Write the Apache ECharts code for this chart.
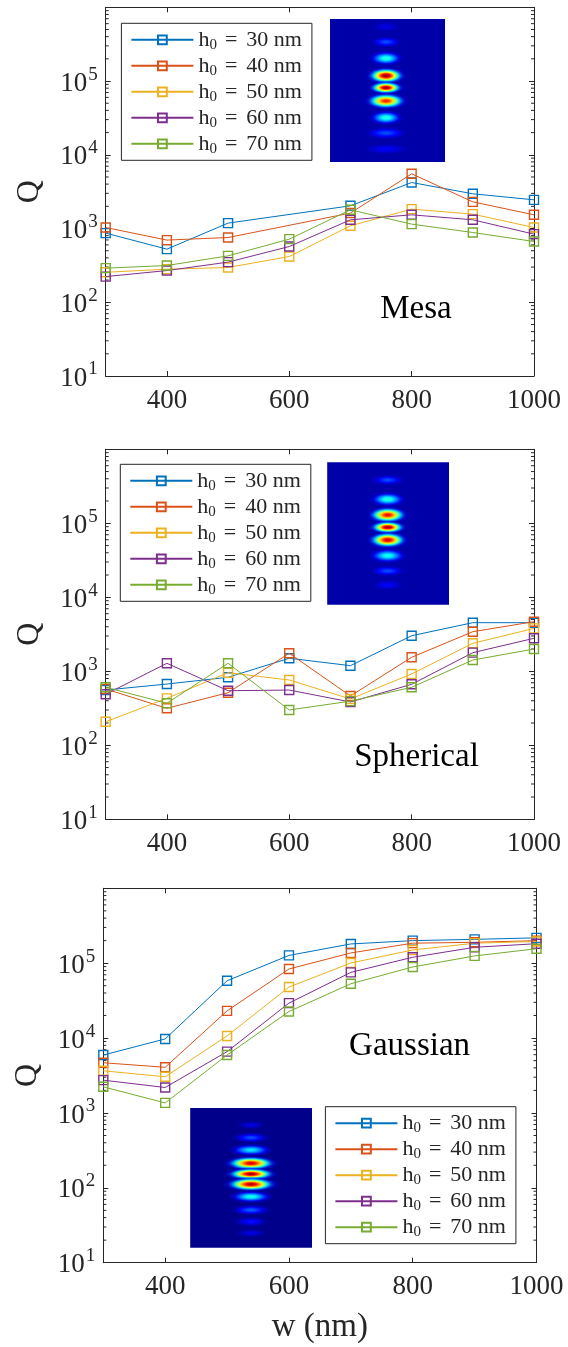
<!DOCTYPE html>
<html><head><meta charset="utf-8">
<script src="https://cdn.jsdelivr.net/npm/echarts@6/dist/echarts.min.js"></script>
<style>html,body{margin:0;padding:0;background:#fff}#c{width:568px;height:1347px}</style>
</head><body><div id="c"></div>
<script>
// ---------------- data ----------------
const widths = [300, 400, 500, 600, 700, 800, 900, 1000];           // w (nm)
const seriesNames = ['h0 = 30 nm', 'h0 = 40 nm', 'h0 = 50 nm', 'h0 = 60 nm', 'h0 = 70 nm'];
const panelLabels = ['Mesa', 'Spherical', 'Gaussian'];
const xTickValues = [400, 600, 800, 1000];
const minorMantissas = [2, 3, 4, 5, 6, 7, 8, 9];
const minorDecades = [10, 100, 1000, 10000, 100000];

// Mesa
const mesaQ30 = [866, 525, 1184, null, 2032, 4207, 2958, 2449];
const mesaQ40 = [1032, 697, 755, null, 1620, 5520, 2300, 1534];
const mesaQ50 = [255, 281, 296, 417, 1088, 1833, 1567, 1032];
const mesaQ60 = [223, 269, 350, 570, 1313, 1534, 1313, 839];
const mesaQ70 = [290, 315, 426, 717, 1795, 1147, 883, 667];
// Spherical
const sphQ30 = [558, 673, 830, 1500, 1191, 3025, 4540, 4540];
const sphQ40 = [577, 316, 514, 1750, 464, 1546, 3428, 4680];
const sphQ50 = [208, 431, 957, 763, 423, 920, 2390, 3800];
const sphQ60 = [489, 1283, 547, 558, 385, 667, 1786, 2793];
const sphQ70 = [608, 370, 1283, 300, 395, 608, 1421, 2000];
// Gaussian
const gauQ30 = [5930, 9730, 58200, 127000, 180700, 200000, 208000, 218000];
const gauQ40 = [4680, 4070, 23070, 83600, 137000, 185000, 190000, 200000];
const gauQ50 = [3655, 3040, 10670, 48000, 100600, 150000, 185000, 195000];
const gauQ60 = [2740, 2188, 6580, 29300, 75400, 120000, 163000, 182000];
const gauQ70 = [2233, 1361, 5930, 22600, 53100, 89000, 125000, 156000];

const panelData = [
  [mesaQ30, mesaQ40, mesaQ50, mesaQ60, mesaQ70],
  [sphQ30, sphQ40, sphQ50, sphQ60, sphQ70],
  [gauQ30, gauQ40, gauQ50, gauQ60, gauQ70]
];

// ---------------- style / layout ----------------
const colors = ['#0072BD', '#D95319', '#EDB120', '#7E2F8E', '#77AC30'];
const FONT = "'Liberation Serif','Times New Roman',serif";
const AX = '#262626';
const grids = [
  { left: 105.7, top: 7.3, width: 428.3, height: 368.7 },
  { left: 105.7, top: 449.3, width: 428.3, height: 370 },
  { left: 103.3, top: 888.3, width: 433.2, height: 374.4 }
];
const legendPos = [
  { left: 121.4, top: 23.3 },
  { left: 120.3, top: 464.3 },
  { left: 325.4, top: 1106.7 }
];
const labelPos = [[416, 309], [416.5, 757], [409.6, 1046.7]];

const minorTickValues = [];
minorDecades.forEach(d => minorMantissas.forEach(m => minorTickValues.push(m * d)));

function yLabel(v) {
  const e = Math.round(Math.log10(v));
  if (e >= 6) return '';
  return '{b|10}{s|' + e + '}';
}
function xLabel(v) { return String(Math.round(v)); }
function legendLabel(name) {
  const num = name.replace('h0 = ', '').replace(' nm', '');
  return '{h|h}{sub|0}{eq|=}{t|' + num + ' nm}';
}

const option = {
  animation: false,
  backgroundColor: '#fff',
  grid: grids.map(g => Object.assign({}, g)),
  xAxis: [], yAxis: [], series: [], legend: [], graphic: []
};

const axisLineCommon = { show: true, onZero: false, lineStyle: { color: AX, width: 1 } };
const tickCommon = { show: true, inside: true, length: 5, lineStyle: { color: AX, width: 1 } };

panelData.forEach((rows, i) => {
  option.xAxis.push({
    type: 'value', gridIndex: i, min: 300, max: 1000, position: 'bottom',
    axisLine: axisLineCommon,
    axisTick: Object.assign({ customValues: xTickValues }, tickCommon),
    axisLabel: { show: true, customValues: xTickValues, formatter: xLabel, fontFamily: FONT, fontSize: 27, color: AX, margin: 11 },
    splitLine: { show: false },
    name: i === 2 ? 'w (nm)' : '', nameLocation: 'middle', nameGap: 48,
    nameTextStyle: { fontFamily: FONT, fontSize: 33, color: AX }
  });
  option.xAxis.push({
    type: 'value', gridIndex: i, min: 300, max: 1000, position: 'top',
    axisLine: axisLineCommon,
    axisTick: Object.assign({ customValues: xTickValues }, tickCommon),
    axisLabel: { show: false }, splitLine: { show: false }
  });
  option.yAxis.push({
    type: 'log', logBase: 10, gridIndex: i, min: 10, max: 1000000, position: 'left',
    axisLine: axisLineCommon, axisTick: tickCommon,
    axisLabel: {
      show: true, interval: 0, formatter: yLabel, margin: 8,
      rich: {
        b: { fontFamily: FONT, fontSize: 27, color: AX, verticalAlign: 'bottom' },
        s: { fontFamily: FONT, fontSize: 19, color: AX, verticalAlign: 'bottom', padding: [0, 0, 13, 1] }
      }
    },
    splitLine: { show: false }, minorTick: { show: false },
    name: 'Q', nameLocation: 'middle', nameGap: 60, nameRotate: 90,
    nameTextStyle: { fontFamily: FONT, fontSize: 32, color: AX }
  });
  option.yAxis.push({
    type: 'log', logBase: 10, gridIndex: i, min: 10, max: 1000000, position: 'right',
    axisLine: axisLineCommon, axisTick: tickCommon,
    axisLabel: { show: false }, splitLine: { show: false }
  });

  rows.forEach((arr, k) => {
    option.series.push({
      type: 'line', name: seriesNames[k], xAxisIndex: 2 * i, yAxisIndex: 2 * i,
      data: widths.map((w, j) => [w, arr[j]]),
      connectNulls: true,
      symbol: 'rect', symbolSize: 9,
      lineStyle: { color: colors[k], width: 1 },
      itemStyle: { color: 'rgba(255,255,255,0)', borderColor: colors[k], borderWidth: 1.4 },
      emphasis: { disabled: true }, z: 3 + k
    });
  });

  // minor log ticks (left and right), placed through the axis scales
  option.series.push({
    type: 'custom', xAxisIndex: 2 * i, yAxisIndex: 2 * i, silent: true, clip: false, z: 1,
    data: minorTickValues.map(v => [300, v]),
    encode: { x: 0, y: 1 },
    renderItem: function (params, api) {
      const v = api.value(1);
      const pl = api.coord([300, v]);
      const pr = api.coord([1000, v]);
      return {
        type: 'group', children: [
          { type: 'line', shape: { x1: pl[0], y1: pl[1], x2: pl[0] + 3, y2: pl[1] }, style: { stroke: AX, lineWidth: 1 } },
          { type: 'line', shape: { x1: pr[0] - 3, y1: pr[1], x2: pr[0], y2: pr[1] }, style: { stroke: AX, lineWidth: 1 } }
        ]
      };
    }
  });

  option.legend.push({
    data: seriesNames, orient: 'vertical',
    left: legendPos[i].left, top: legendPos[i].top,
    itemWidth: 62, itemHeight: 11, itemGap: 1,
    padding: [4, 10, 4, 9],
    backgroundColor: '#fff', borderColor: AX, borderWidth: 1,
    selectedMode: false, formatter: legendLabel,
    textStyle: {
      fontFamily: FONT, fontSize: 22, color: AX,
      rich: {
        h: { fontFamily: FONT, fontSize: 22, color: AX, lineHeight: 22 },
        sub: { fontFamily: FONT, fontSize: 15, color: AX, lineHeight: 15, padding: [10, 0, 0, 0] },
        eq: { fontFamily: FONT, fontSize: 22, color: AX, lineHeight: 22, padding: [0, 9, 0, 8] },
        t: { fontFamily: FONT, fontSize: 22, color: AX, lineHeight: 22 }
      }
    }
  });

  option.graphic.push({
    type: 'text', x: labelPos[i][0], y: labelPos[i][1], silent: true, z: 50,
    style: { text: panelLabels[i], font: '33px ' + FONT, fill: '#000', align: 'center', verticalAlign: 'middle' }
  });
});

// ---------------- field-profile insets (decorative images) ----------------
function jet(v) {
  const c = x => Math.max(0, Math.min(1, x));
  const r = c(1.5 - Math.abs(4 * v - 3)), g = c(1.5 - Math.abs(4 * v - 2)), b = c(1.5 - Math.abs(4 * v - 1));
  return [Math.round(r * 255), Math.round(g * 255), Math.round(b * 255)];
}
function blobGradient(level, bg) {
  const stops = [];
  for (let s = 0; s <= 10; s++) {
    const t = s / 10;
    const v = bg + (level - bg) * Math.exp(-3 * t * t);
    const col = jet(v);
    const a = t < 0.55 ? 1 : Math.max(0, 1 - (t - 0.55) / 0.45);
    stops.push({ offset: t, color: 'rgba(' + col.join(',') + ',' + a.toFixed(2) + ')' });
  }
  return { type: 'radial', x: 0.5, y: 0.5, r: 0.5, colorStops: stops };
}
const insets = [
  { x: 330, y: 19, w: 115, h: 143, bg: 0.04, cx: 56,
    blobs: [[7.7, 17, 6, 0.1], [23, 18, 6, 0.2], [39.3, 19, 8, 0.42], [56.7, 21, 9, 0.98], [68.7, 19, 7, 0.98], [82, 23, 9, 0.85], [98.7, 19, 8, 0.42], [114, 24, 7, 0.2], [130, 28, 6, 0.12]] },
  { x: 327.2, y: 462.3, w: 121.8, h: 142.4, bg: 0.04, cx: 60.5,
    blobs: [[17.7, 19, 6, 0.2], [37, 20, 8, 0.42], [52.7, 22, 9, 0.88], [65, 20, 7, 0.98], [77.7, 22, 9, 0.92], [93.4, 21, 8, 0.4], [108.7, 20, 6, 0.2], [122.7, 19, 6, 0.12]] },
  { x: 190.2, y: 1108, w: 121.8, h: 139.7, bg: 0.01, cx: 60.8,
    blobs: [[17, 18, 5, 0.1], [29.7, 22, 6, 0.2], [42, 25, 7, 0.36], [55.3, 29, 8, 0.92], [66, 28, 7, 0.97], [76.3, 29, 8, 0.95], [88.7, 25, 7, 0.4], [102, 23, 6, 0.22], [113.7, 21, 6, 0.14], [125, 19, 5, 0.1]] }
];
insets.forEach(ins => {
  const bgc = jet(ins.bg);
  option.graphic.push({
    type: 'rect', silent: true, z: 40,
    shape: { x: ins.x, y: ins.y, width: ins.w, height: ins.h },
    style: { fill: 'rgb(' + bgc.join(',') + ')' }
  });
  ins.blobs.forEach(b => {
    option.graphic.push({
      type: 'circle', silent: true, z: 41,
      x: ins.x + ins.cx, y: ins.y + b[0], scaleX: b[1] / b[2],
      shape: { cx: 0, cy: 0, r: b[2] },
      style: { fill: blobGradient(b[3], ins.bg) }
    });
  });
});

const chart = echarts.init(document.getElementById('c'), null, { renderer: 'canvas' });
chart.setOption(option);
</script>
</body></html>
